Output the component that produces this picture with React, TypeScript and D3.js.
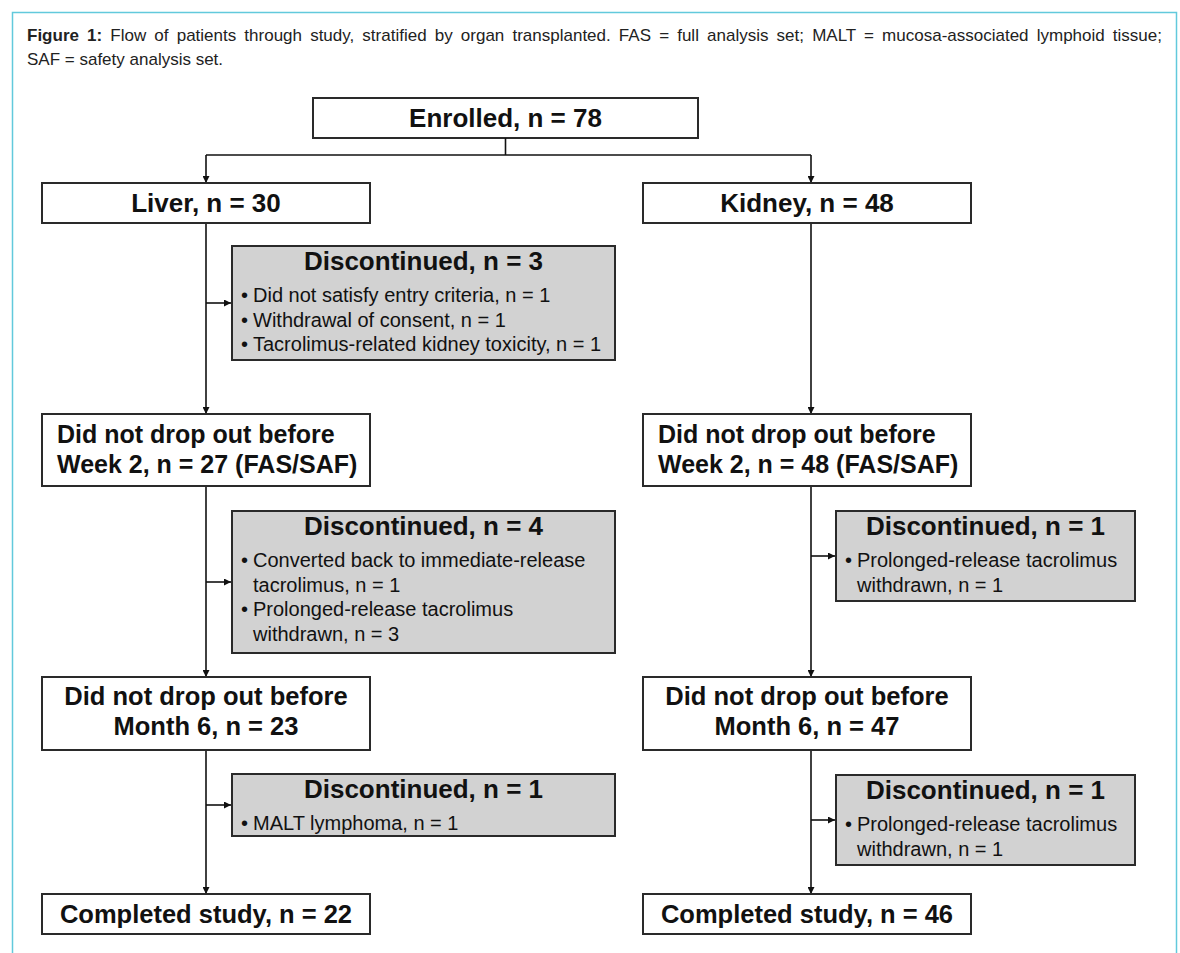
import React, { useEffect, useRef } from "react";
import * as d3 from "d3";

// --- data ---
const enrolledCount = 78;
const organs = ["Liver", "Kidney"];
const organCounts = [30, 48];
const week2Counts = [27, 48];
const month6Counts = [23, 47];
const completedCounts = [22, 46];

// discontinued per stage (0: before week 2, 1: before month 6, 2: before end), per organ
const liverDiscontinued = [
  { n: 3, reasons: [["Did not satisfy entry criteria, n = 1"], ["Withdrawal of consent, n = 1"], ["Tacrolimus-related kidney toxicity, n = 1"]] },
  { n: 4, reasons: [["Converted back to immediate-release", "tacrolimus, n = 1"], ["Prolonged-release tacrolimus", "withdrawn, n = 3"]] },
  { n: 1, reasons: [["MALT lymphoma, n = 1"]] },
];
const kidneyDiscontinued = [
  null,
  { n: 1, reasons: [["Prolonged-release tacrolimus", "withdrawn, n = 1"]] },
  { n: 1, reasons: [["Prolonged-release tacrolimus", "withdrawn, n = 1"]] },
];

const captionBold = "Figure 1:";
const captionLines = [
  " Flow of patients through study, stratified by organ transplanted. FAS = full analysis set; MALT = mucosa-associated lymphoid tissue;",
  "SAF = safety analysis set.",
];

// --- layout ---
const width = 1180;
const height = 953;
const font = "'Liberation Sans', Arial, Helvetica, sans-serif";
const colX = [206, 811];
const mainBoxX = [[42, 370], [643, 971]];
const discBoxX = [[232, 615], [836, 1135]];
const rowTop = { organ: 183, week2: 414, month6: 677, completed: 894 };
const rowH = { organ: 40, week2: 72, month6: 73, completed: 40 };
const discTop = [[246, 511, 774], [null, 511, 775]];
const discH = [[114, 142, 62], [null, 90, 90]];

const App = () => {
  const svgRef = useRef(null);

  useEffect(() => {
    document.body.style.margin = "0";
    const svg = d3.select(svgRef.current);
    svg.selectAll("*").remove();

    svg
      .append("defs")
      .append("marker")
      .attr("id", "arr")
      .attr("viewBox", "0 0 10 10")
      .attr("refX", 10)
      .attr("refY", 5)
      .attr("markerWidth", 7)
      .attr("markerHeight", 7)
      .attr("markerUnits", "userSpaceOnUse")
      .attr("orient", "auto")
      .append("path")
      .attr("d", "M0,0L10,5L0,10Z")
      .attr("fill", "#111");

    // frame
    svg
      .append("rect")
      .attr("x", 12.5)
      .attr("y", 12.5)
      .attr("width", 1164)
      .attr("height", 1000)
      .attr("fill", "none")
      .attr("stroke", "#62c9dc")
      .attr("stroke-width", 1.5);

    // caption (first line justified to the frame width)
    const cap = svg.append("g").attr("font-family", font).attr("font-size", 17).attr("fill", "#222");
    const t1 = cap.append("text").attr("x", 27).attr("y", 41);
    t1.append("tspan").attr("font-weight", "bold").text(captionBold);
    t1.append("tspan").text(captionLines[0]);
    const node = t1.node();
    if (node && node.getComputedTextLength) {
      const len = node.getComputedTextLength();
      const spaces = (captionBold + captionLines[0]).split(" ").length - 1;
      const extra = (1162 - 27 - len) / spaces;
      if (extra > 0) t1.attr("word-spacing", extra);
    }
    cap.append("text").attr("x", 27).attr("y", 65).text(captionLines[1]);

    const g = svg.append("g").attr("font-family", font).attr("fill", "#111");

    const line = (pts, arrow) =>
      g
        .append("path")
        .attr("d", d3.line()(pts))
        .attr("fill", "none")
        .attr("stroke", "#111")
        .attr("stroke-width", 1.6)
        .attr("marker-end", arrow ? "url(#arr)" : null);

    const box = (x0, x1, y, h, fill) =>
      g
        .append("rect")
        .attr("x", x0)
        .attr("y", y)
        .attr("width", x1 - x0)
        .attr("height", h)
        .attr("fill", fill)
        .attr("stroke", "#2a2a2a")
        .attr("stroke-width", 2);

    const boldText = (x, y, txt, anchor = "middle", size = 26) =>
      g
        .append("text")
        .attr("x", x)
        .attr("y", y)
        .attr("text-anchor", anchor)
        .attr("font-weight", "bold")
        .attr("font-size", size)
        .text(txt);

    // enrolled
    const enX = [313, 698];
    const enY = 98;
    box(enX[0], enX[1], enY, 40, "#fff");
    boldText((enX[0] + enX[1]) / 2, enY + 29, `Enrolled, n = ${enrolledCount}`);
    const midX = (enX[0] + enX[1]) / 2;
    line([[midX, enY + 40], [midX, 155]], false);
    line([[colX[0], 155], [colX[1], 155]], false);
    colX.forEach((cx) => line([[cx, 155], [cx, rowTop.organ]], true));

    organs.forEach((organ, i) => {
      const cx = colX[i];
      const [bx0, bx1] = mainBoxX[i];
      const bcx = (bx0 + bx1) / 2;

      // trunk
      line([[cx, rowTop.organ + rowH.organ], [cx, rowTop.week2]], true);
      line([[cx, rowTop.week2 + rowH.week2], [cx, rowTop.month6]], true);
      line([[cx, rowTop.month6 + rowH.month6], [cx, rowTop.completed]], true);

      box(bx0, bx1, rowTop.organ, rowH.organ, "#fff");
      boldText(bcx, rowTop.organ + 29, `${organ}, n = ${organCounts[i]}`);

      box(bx0, bx1, rowTop.week2, rowH.week2, "#fff");
      boldText(bx0 + 15, rowTop.week2 + 29, "Did not drop out before", "start", 25);
      boldText(bx0 + 15, rowTop.week2 + 59, `Week 2, n = ${week2Counts[i]} (FAS/SAF)`, "start", 25);

      box(bx0, bx1, rowTop.month6, rowH.month6, "#fff");
      boldText(bcx, rowTop.month6 + 28, "Did not drop out before", "middle", 25.5);
      boldText(bcx, rowTop.month6 + 58, `Month 6, n = ${month6Counts[i]}`, "middle", 25.5);

      box(bx0, bx1, rowTop.completed, rowH.completed, "#fff");
      boldText(bcx, rowTop.completed + 29, `Completed study, n = ${completedCounts[i]}`, "middle", 25.5);

      const discs = i === 0 ? liverDiscontinued : kidneyDiscontinued;
      discs.forEach((d, s) => {
        if (!d) return;
        const top = discTop[i][s];
        const h = discH[i][s];
        const [dx0, dx1] = discBoxX[i];
        line([[cx, top + h / 2], [dx0 - 1, top + h / 2]], true);
        box(dx0, dx1, top, h, "#d2d2d2");
        boldText((dx0 + dx1) / 2, top + 24, `Discontinued, n = ${d.n}`);
        let k = 0;
        d.reasons.forEach((r) => {
          r.forEach((ln, j) => {
            const y = top + 56 + k * 24.5;
            if (j === 0)
              g.append("text").attr("x", dx0 + 9).attr("y", y).attr("font-size", 20).text("•");
            g.append("text").attr("x", dx0 + 21).attr("y", y).attr("font-size", 20).text(ln);
            k++;
          });
        });
      });
    });
  }, []);

  return (
    <svg
      ref={svgRef}
      width={width}
      height={height}
      style={{ position: "absolute", left: 0, top: 0, background: "#fff" }}
    />
  );
};

export default App;
